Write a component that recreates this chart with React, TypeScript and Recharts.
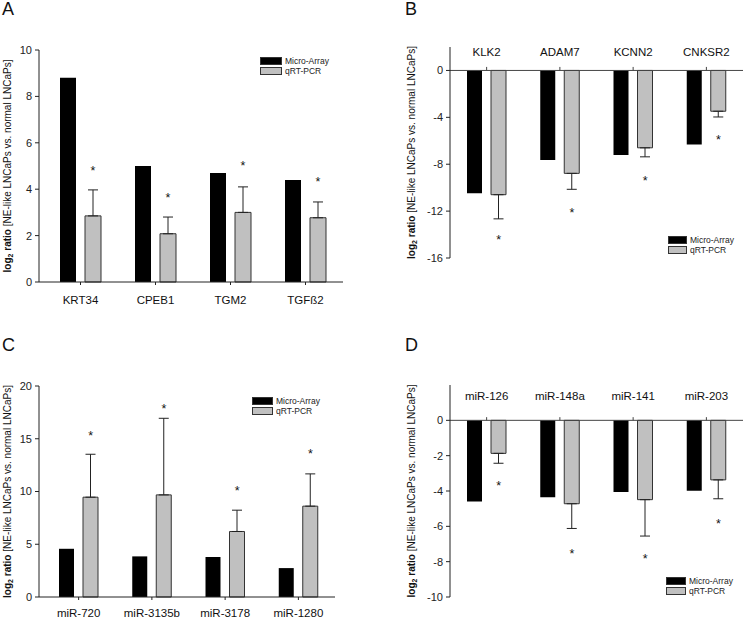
import React from 'react'
import { ComposedChart, Bar, XAxis, YAxis, ErrorBar, Scatter, ReferenceLine, Legend, Label } from 'recharts'

const FONT = '"Liberation Sans", Arial, Helvetica, sans-serif'

// shared series
const seriesNames = ['Micro-Array', 'qRT-PCR']
const seriesColors = ['#000000', '#c0c0c0']

// A - up-regulated genes
const catsA = ['KRT34', 'CPEB1', 'TGM2', 'TGFß2']
const microA = [8.8, 5.0, 4.7, 4.4]
const qpcrA = [2.85, 2.08, 3.0, 2.77]
const errA = [1.12, 0.72, 1.1, 0.68]
const starA = [4.9, 3.74, 5.14, 4.43]
const ticksA = [0, 2, 4, 6, 8, 10]

// B - down-regulated genes
const catsB = ['KLK2', 'ADAM7', 'KCNN2', 'CNKSR2']
const microB = [-10.48, -7.65, -7.22, -6.32]
const qpcrB = [-10.6, -8.78, -6.6, -3.48]
const errB = [2.06, 1.36, 0.77, 0.49]
const starB = [-14.2, -11.9, -9.15, -5.7]
const ticksB = [-16, -12, -8, -4, 0]

// C - up-regulated miRNAs
const catsC = ['miR-720', 'miR-3135b', 'miR-3178', 'miR-1280']
const microC = [4.57, 3.85, 3.79, 2.74]
const qpcrC = [9.46, 9.68, 6.21, 8.61]
const errC = [4.07, 7.26, 2.02, 3.06]
const starC = [15.5, 18.1, 10.3, 13.8]
const ticksC = [0, 5, 10, 15, 20]

// D - down-regulated miRNAs
const catsD = ['miR-126', 'miR-148a', 'miR-141', 'miR-203']
const microD = [-4.59, -4.36, -4.06, -3.99]
const qpcrD = [-1.87, -4.72, -4.49, -3.37]
const errD = [0.56, 1.4, 2.06, 1.07]
const starD = [-3.56, -7.38, -7.7, -5.7]
const ticksD = [-10, -8, -6, -4, -2, 0]

const buildRows = (cats: string[], micro: number[], qpcr: number[], err: number[], star: number[]) =>
  cats.map((name, i) => ({
    name,
    micro: micro[i],
    qpcr: qpcr[i],
    // one-sided error bar, pointing away from zero
    err: qpcr[i] >= 0 ? [0, err[i]] : [err[i], 0],
    star: star[i],
  }))

const LegendBox = ({ sw }: { sw: number }) => (
  <div style={{ fontFamily: FONT, fontSize: 8.5, color: '#222', lineHeight: 1 }}>
    {seriesNames.map((n, i) => (
      <div key={n} style={{ display: 'flex', alignItems: 'center', height: 10 }}>
        <span
          style={{
            display: 'inline-block',
            width: sw,
            height: 8,
            background: seriesColors[i],
            border: '1px solid #333',
            boxSizing: 'border-box',
            marginRight: 3,
          }}
        />
        {n}
      </div>
    ))}
  </div>
)

const yTitle = (x: number) => (props: any) => {
  const vb = props.viewBox || { y: 0, height: 0 }
  const y = vb.y + vb.height / 2
  return (
    <text x={x} y={y} transform={`rotate(-90, ${x}, ${y})`} textAnchor="middle" fontFamily={FONT} fontSize={10} fill="#111">
      <tspan fontWeight="bold">log</tspan>
      <tspan fontWeight="bold" fontSize={7} dy={2}>2</tspan>
      <tspan fontWeight="bold" dy={-2}> ratio</tspan>
      <tspan> [NE-like LNCaPs vs. normal LNCaPs]</tspan>
    </text>
  )
}

const starShape = (offset: number) => (props: any) => (
  <text x={props.cx + offset} y={props.cy + 7} textAnchor="middle" fontFamily={FONT} fontSize={12.5} fill="#111">
    *
  </text>
)

type PanelProps = {
  left: number
  top: number
  width: number
  height: number
  rows: any[]
  domain: [number, number]
  ticks: number[]
  margin: { top: number; right: number; left: number; bottom: number }
  yWidth: number
  negative: boolean
  xHeight?: number
  xTickMargin: number
  padLeft: number
  barSize: number
  legend: { x: number; y: number; sw: number }
  labelX: number
  zeroTick?: number
}

const Panel = (p: PanelProps) => {
  const offset = (p.barSize + 9) / 2
  return (
    <div style={{ position: 'absolute', left: p.left, top: p.top }}>
      <ComposedChart width={p.width} height={p.height} data={p.rows} margin={p.margin} barGap={9} barCategoryGap={0}>
        {p.negative ? (
          <XAxis
            dataKey="name"
            orientation="top"
            mirror
            axisLine={false}
            tickLine={false}
            tickSize={0}
            tickMargin={p.xTickMargin}
            interval={0}
            tick={{ fontSize: 11.5, fill: '#111', fontFamily: FONT }}
          />
        ) : (
          <XAxis
            dataKey="name"
            height={p.xHeight}
            axisLine={{ stroke: '#222' }}
            tickLine={{ stroke: '#222' }}
            tickSize={3}
            tickMargin={p.xTickMargin}
            interval={0}
            padding={{ left: p.padLeft, right: 0 }}
            tick={{ fontSize: 11.5, fill: '#111', fontFamily: FONT }}
          />
        )}
        <YAxis
          width={p.yWidth}
          domain={p.domain}
          ticks={p.ticks}
          interval={0}
          axisLine={{ stroke: '#222' }}
          tickLine={{ stroke: '#222' }}
          tickSize={4}
          tickMargin={3}
          tick={{ fontSize: 11, fill: '#222', fontFamily: FONT }}
          label={<Label content={yTitle(p.labelX)} />}
        />
        {p.negative && <ReferenceLine y={0} stroke="#444" strokeWidth={1} />}
        {p.negative &&
          p.rows.map((r) => (
            <ReferenceLine
              key={r.name}
              segment={[
                { x: r.name, y: 0 },
                { x: r.name, y: p.zeroTick },
              ]}
              stroke="#444"
            />
          ))}
        <Bar dataKey="micro" name={seriesNames[0]} fill={seriesColors[0]} barSize={p.barSize} isAnimationActive={false} />
        <Bar dataKey="qpcr" name={seriesNames[1]} fill={seriesColors[1]} stroke="#333" strokeWidth={1} barSize={p.barSize} isAnimationActive={false}>
          <ErrorBar dataKey="err" width={5} stroke="#222" strokeWidth={1} direction="y" />
        </Bar>
        <Scatter dataKey="star" legendType="none" shape={starShape(offset)} isAnimationActive={false} />
        <Legend
          layout="vertical"
          align="center"
          verticalAlign="middle"
          wrapperStyle={{ left: p.legend.x, top: p.legend.y, width: 110, height: 22 }}
          content={() => <LegendBox sw={p.legend.sw} />}
        />
      </ComposedChart>
    </div>
  )
}

const letterStyle = (left: number, top: number): React.CSSProperties => ({
  position: 'absolute',
  left,
  top,
  fontFamily: FONT,
  fontSize: 18,
  lineHeight: '18px',
  color: '#111',
})

export default function App() {
  return (
    <div style={{ position: 'absolute', left: 0, top: 0, width: 746, height: 619, background: '#fff' }}>
      <Panel
        left={0}
        top={0}
        width={373}
        height={310}
        rows={buildRows(catsA, microA, qpcrA, errA, starA)}
        domain={[0, 10]}
        ticks={ticksA}
        margin={{ top: 50, right: 30, left: 0, bottom: 0 }}
        yWidth={39}
        negative={false}
        xHeight={28}
        xTickMargin={11}
        padLeft={4}
        barSize={16}
        legend={{ x: 260, y: 56, sw: 22 }}
        labelX={11}
      />
      <Panel
        left={373}
        top={0}
        width={373}
        height={310}
        rows={buildRows(catsB, microB, qpcrB, errB, starB)}
        domain={[-16, 2]}
        ticks={ticksB}
        margin={{ top: 47, right: 3, left: 0, bottom: 52 }}
        yWidth={77}
        negative
        xTickMargin={1}
        padLeft={0}
        barSize={15}
        legend={{ x: 295, y: 235, sw: 19 }}
        labelX={42}
        zeroTick={0.3}
      />
      <Panel
        left={0}
        top={310}
        width={373}
        height={309}
        rows={buildRows(catsC, microC, qpcrC, errC, starC)}
        domain={[0, 20]}
        ticks={ticksC}
        margin={{ top: 76, right: 38, left: 0, bottom: 0 }}
        yWidth={39}
        negative={false}
        xHeight={22}
        xTickMargin={9}
        padLeft={3}
        barSize={15}
        legend={{ x: 252, y: 86, sw: 21 }}
        labelX={11}
      />
      <Panel
        left={373}
        top={310}
        width={373}
        height={309}
        rows={buildRows(catsD, microD, qpcrD, errD, starD)}
        domain={[-10, 2]}
        ticks={ticksD}
        margin={{ top: 75, right: 3, left: 0, bottom: 22 }}
        yWidth={77}
        negative
        xTickMargin={7}
        padLeft={0}
        barSize={15}
        legend={{ x: 293, y: 266, sw: 20 }}
        labelX={42}
        zeroTick={0.18}
      />
      <div style={letterStyle(2, 0)}>A</div>
      <div style={letterStyle(405, 0)}>B</div>
      <div style={letterStyle(2, 336)}>C</div>
      <div style={letterStyle(405, 336)}>D</div>
    </div>
  )
}
